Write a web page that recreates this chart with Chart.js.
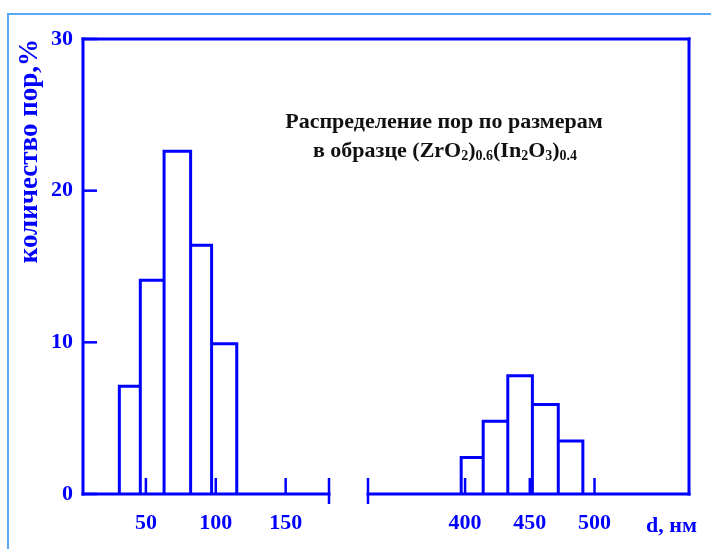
<!DOCTYPE html>
<html><head><meta charset="utf-8">
<script src="https://cdn.jsdelivr.net/npm/chart.js@4.4.1/dist/chart.umd.min.js"></script>
<style>
html,body{margin:0;padding:0;background:#fff;}
#wrap{position:relative;width:711px;height:549px;overflow:hidden;background:#fff;}
#frame{position:absolute;left:7px;top:13px;width:720px;height:600px;border-left:2px solid #5aa9f7;border-top:2px solid #5aa9f7;}
canvas{position:absolute;left:0;top:0;}
</style></head><body>
<div id="wrap"><div id="frame"></div>
<canvas id="cL" width="711" height="549"></canvas>
<canvas id="cR" width="711" height="549"></canvas>
</div>
<script>
// ---- data ----
const leftEdges = [31, 46, 63, 82, 97, 115];
const leftValues = [7.1, 14.1, 22.6, 16.4, 9.9];
const rightEdges = [397, 414, 433, 452, 472, 491];
const rightValues = [2.4, 4.8, 7.8, 5.9, 3.5];
const leftTicks = [50, 100, 150];
const rightTicks = [400, 450, 500];
const yTicks = [0, 10, 20, 30];
const yTitle = 'количество пор,%';
const xUnit = 'd, нм';
const noteLine1 = 'Распределение пор по размерам';
const noteLine2 = [['в образце (ZrO',0],['2',1],[')',0],['0.6',1],['(In',0],['2',1],['O',0],['3',1],[')',0],['0.4',1]];

// ---- style ----
const BLUE = '#0000ff';
const FONT = '"Liberation Serif", "Times New Roman", serif';
const SEAM = 349;

function outline(edges, vals){
  const pts = [];
  for (let i = 0; i < vals.length; i++){
    pts.push({x:edges[i],y:0},{x:edges[i],y:vals[i]},{x:edges[i+1],y:vals[i]},{x:edges[i+1],y:0});
  }
  return pts;
}

function line(ctx,x1,y1,x2,y2,w){
  ctx.save(); ctx.strokeStyle=BLUE; ctx.lineWidth=w; ctx.lineCap='butt';
  ctx.beginPath(); ctx.moveTo(x1,y1); ctx.lineTo(x2,y2); ctx.stroke(); ctx.restore();
}

const framePlugin = {
  id:'frameDeco',
  afterDraw(chart, args, opts){
    const ctx = chart.ctx, a = chart.chartArea, xs = chart.scales.x, ys = chart.scales.y;
    const bottom = ys.getPixelForValue(0), top = ys.getPixelForValue(30);
    // tick marks pointing inward
    xs.ticks.forEach(t=>{ const px = xs.getPixelForValue(t.value); line(ctx,px,bottom,px,bottom-16,2.5); });
    // axis line
    line(ctx,a.left-1.5,bottom,a.right+1.5,bottom,3);
    if (opts.side==='left'){
      ys.ticks.forEach(t=>{ const py = ys.getPixelForValue(t.value); line(ctx,a.left,py,a.left+14,py,2.5); });
      line(ctx,a.left,top-1.5,a.left,bottom+1.5,3);
      line(ctx,a.left-1.5,top,SEAM,top,3);
      line(ctx,a.right,bottom-16,a.right,bottom+10,2.5);
    } else {
      line(ctx,SEAM,top,a.right+1.5,top,3);
      line(ctx,a.right,top-1.5,a.right,bottom+1.5,3);
      line(ctx,a.left,bottom-16,a.left,bottom+10,2.5);
      // unit label
      ctx.save();
      ctx.fillStyle=BLUE; ctx.font='bold 22px '+FONT; ctx.textAlign='left'; ctx.textBaseline='alphabetic';
      ctx.fillText(xUnit, a.right-43, bottom+38);
      ctx.restore();
      // note
      ctx.save();
      ctx.fillStyle='#111'; ctx.textBaseline='alphabetic';
      ctx.font='bold 22px '+FONT; ctx.textAlign='center';
      ctx.fillText(noteLine1, 444, 128);
      const mainF='bold 22px '+FONT, subF='bold 14px '+FONT;
      let total=0;
      noteLine2.forEach(r=>{ ctx.font = r[1]?subF:mainF; total += ctx.measureText(r[0]).width; });
      let x = 445 - total/2; ctx.textAlign='left';
      noteLine2.forEach(r=>{ ctx.font = r[1]?subF:mainF; ctx.fillText(r[0], x, 157 + (r[1]?3:0)); x += ctx.measureText(r[0]).width; });
      ctx.restore();
    }
  }
};

const tickFont = {family:FONT, size:22, weight:'bold'};

function makeChart(id, side, edges, vals, xmin, xmax, ticksArr, pad){
  return new Chart(document.getElementById(id), {
    type:'scatter',
    data:{datasets:[{data:outline(edges,vals), showLine:true, borderColor:BLUE, borderWidth:3, pointRadius:0, fill:false, tension:0, borderJoinStyle:'miter'}]},
    options:{
      responsive:false, animation:false, devicePixelRatio:1,
      layout:{padding:pad},
      plugins:{legend:{display:false}, tooltip:{enabled:false}, frameDeco:{side}},
      scales:{
        x:{type:'linear', min:xmin, max:xmax,
           afterBuildTicks:s=>{ s.ticks = ticksArr.map(v=>({value:v})); },
           afterFit:s=>{ s.height = 55; },
           grid:{display:false, drawTicks:false}, border:{display:false},
           ticks:{color:BLUE, font:tickFont, padding:16, maxRotation:0, autoSkip:false}},
        y:{type:'linear', min:0, max:30, display: side==='left',
           afterBuildTicks:s=>{ s.ticks = yTicks.map(v=>({value:v})); },
           afterFit:s=>{ s.width = side==='left' ? 83 : 0; },
           grid:{display:false, drawTicks:false}, border:{display:false},
           ticks:{color:BLUE, font:tickFont, padding:10},
           title:{display:true, text:yTitle, align:'end', color:BLUE, font:{family:FONT, size:27, weight:'bold'}, padding:{top:14,bottom:0}}}
      }
    },
    plugins:[framePlugin]
  });
}

makeChart('cL','left',leftEdges,leftValues,5,181,leftTicks,{left:0,right:382,top:39,bottom:0});
makeChart('cR','right',rightEdges,rightValues,325,573,rightTicks,{left:368,right:22,top:39,bottom:0});
</script>
</body></html>
